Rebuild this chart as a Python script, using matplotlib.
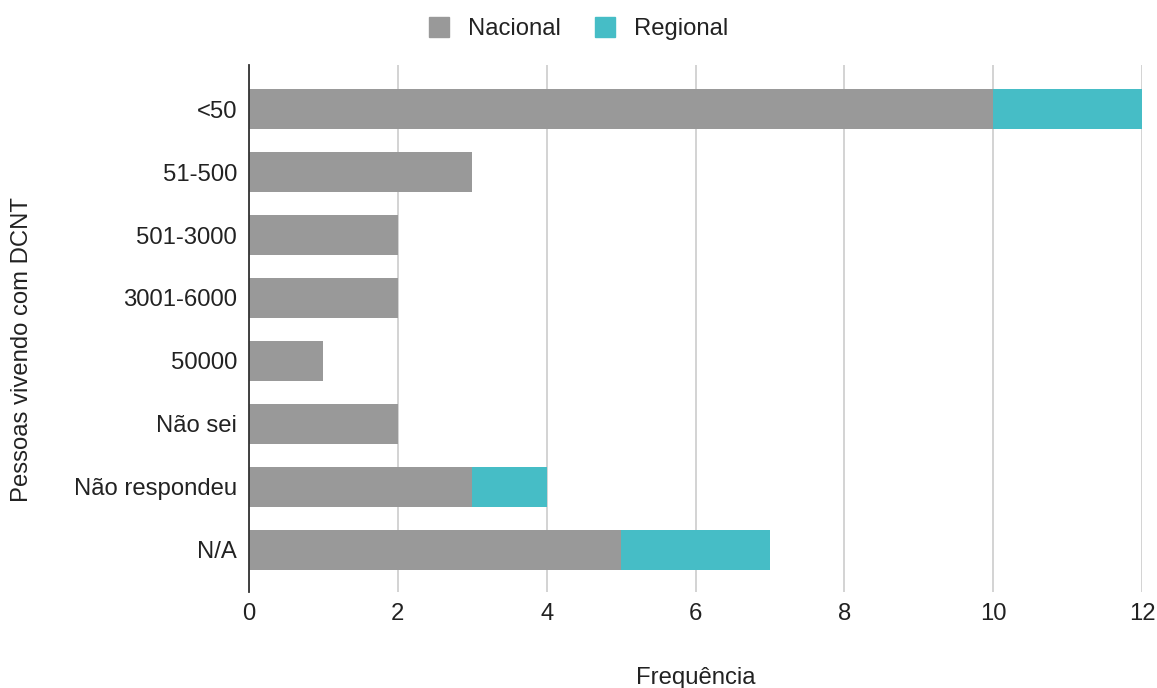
import numpy as np
import matplotlib.pyplot as plt
from matplotlib.patches import Patch

# Responses per population bracket
categorias = ['<50', '51-500', '501-3000', '3001-6000', '50000', 'Não sei', 'Não respondeu', 'N/A']
nacional = [10, 3, 2, 2, 1, 2, 3, 5]
regional = [2, 0, 0, 0, 0, 0, 1, 2]

cor_nacional = '#999999'
cor_regional = '#46bdc6'
cor_texto = '#222222'
fs = 17.2

plt.rcParams['font.family'] = ['Liberation Sans', 'DejaVu Sans']

fig = plt.figure(figsize=(11.57, 6.88), dpi=100)
ax = fig.add_axes([0.2152, 0.1395, 0.772, 0.766])

y = np.arange(len(categorias))
ax.barh(y, nacional, height=0.63, color=cor_nacional, zorder=3)
ax.barh(y, regional, left=nacional, height=0.63, color=cor_regional, zorder=3)

ax.set_xlim(0, 12)
ax.set_ylim(7.67, -0.7)
ax.set_xticks(range(0, 13, 2))
ax.set_yticks(y)
ax.set_yticklabels(categorias)
ax.tick_params(axis='both', length=0, labelsize=fs, colors=cor_texto)
ax.tick_params(axis='x', pad=8)
ax.tick_params(axis='y', pad=8.5)

ax.grid(axis='x', color='#cccccc', linewidth=1.2, zorder=0)
for s in ['top', 'right', 'bottom']:
    ax.spines[s].set_visible(False)
ax.spines['left'].set_color('#333333')
ax.spines['left'].set_linewidth(1.3)
ax.spines['left'].set_zorder(4)

fig.text(0.6016, 0.015, 'Frequência', ha='center', va='center', fontsize=fs, color=cor_texto)
fig.text(0.019, 0.492, 'Pessoas vivendo com DCNT', ha='center', va='center', rotation=90,
         fontsize=fs, color=cor_texto)

handles = [Patch(color=cor_nacional, label='Nacional'), Patch(color=cor_regional, label='Regional')]
fig.legend(handles=handles, loc='center', bbox_to_anchor=(0.5, 0.958), ncol=2, frameon=False,
           fontsize=fs, handlelength=0.85, handleheight=0.85, columnspacing=1.4, handletextpad=0.8,
           labelcolor=cor_texto)

fig.savefig('out.png', dpi=100)
